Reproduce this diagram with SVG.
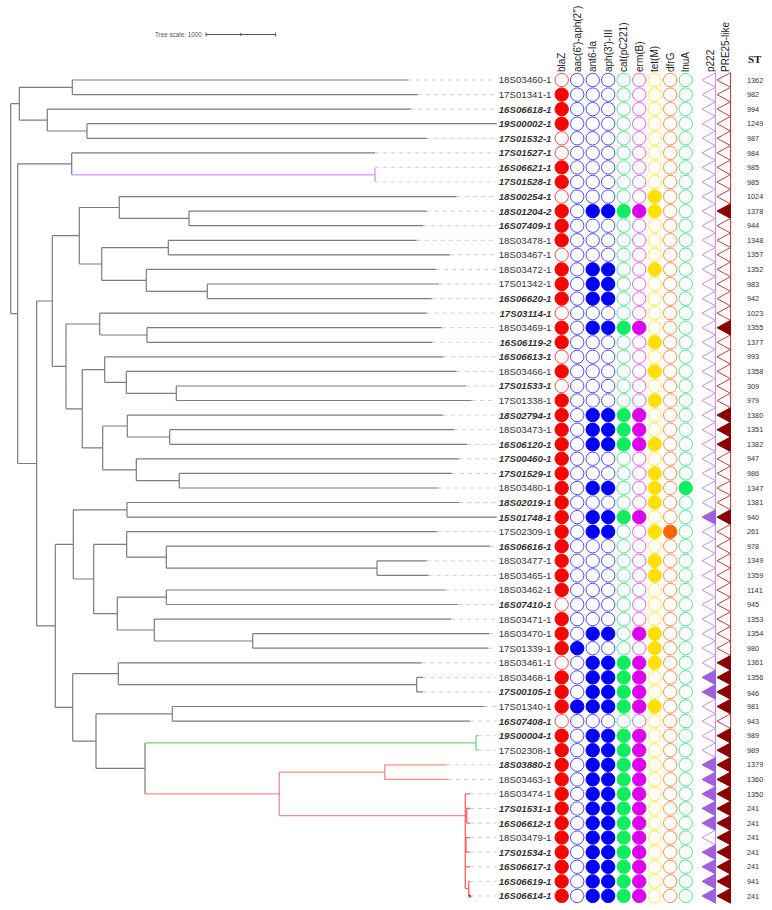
<svg xmlns="http://www.w3.org/2000/svg" width="772" height="910" viewBox="0 0 772 910">
<style>
text{font-family:"Liberation Sans",Arial,sans-serif;fill:#333}
.l{font-size:9.7px;text-anchor:end}
.b{font-weight:bold;font-style:italic}
.s{font-size:7.3px}
.h{font-size:10px;fill:#222}
.r{fill:#fff;stroke:#ff4d4d}.R{fill:#f00;stroke:#f00}
.u{fill:#fff;stroke:#4d4dff}.U{fill:#00f;stroke:#00f}
.g{fill:#fff;stroke:#4de88a}.G{fill:#10ee60;stroke:#10ee60}
.m{fill:#fff;stroke:#e860f0}.M{fill:#dd00f0;stroke:#dd00f0}
.y{fill:#fff;stroke:#ffe840}.Y{fill:#ffe000;stroke:#ffe000}
.o{fill:#fff;stroke:#ff8c4d}.O{fill:#ff6400;stroke:#ff6400}
.p{fill:#fff;stroke:#c58ef0}.P{fill:#a060dd;stroke:#a060dd}
.q{fill:#fff;stroke:#cc3a3a}.Q{fill:#8b0000;stroke:#8b0000}
use{stroke-width:1}
.tree{fill:none;stroke:#7d7d7d;stroke-width:1.2}
.lead{fill:none;stroke:#cfcfcf;stroke-width:1;stroke-dasharray:4 4}
</style>
<defs>
<circle id="c0" cx="561.7" r="6.7"/><circle id="c1" cx="577.2" r="6.7"/><circle id="c2" cx="592.7" r="6.7"/>
<circle id="c3" cx="608.2" r="6.7"/><circle id="c4" cx="623.7" r="6.7"/><circle id="c5" cx="639.2" r="6.7"/>
<circle id="c6" cx="654.7" r="6.7"/><circle id="c7" cx="670.2" r="6.7"/><circle id="c8" cx="685.7" r="6.7"/>
<polygon id="t1" points="702,0 715.5,-7.3 715.5,7.3"/>
<polygon id="t2" points="717,0 730.5,-7.3 730.5,7.3"/>
</defs>
<rect width="772" height="910" fill="#fff"/>
<g id="scale">
<text x="155" y="37" style="font-size:6.3px;fill:#555">Tree scale: 1000</text>
<path d="M206 34.5H275.7M206 32.5V36.5M240.8 33V36M275.7 32.5V36.5" stroke="#555" fill="none"/>
</g>
<g id="header">
<text class="h" transform="translate(565.2,72) rotate(-90)">blaZ</text>
<text class="h" transform="translate(580.7,72) rotate(-90)">aac(6')-aph(2'')</text>
<text class="h" transform="translate(596.2,72) rotate(-90)">ant6-Ia</text>
<text class="h" transform="translate(611.7,72) rotate(-90)">aph(3')-III</text>
<text class="h" transform="translate(627.2,72) rotate(-90)">cat(pC221)</text>
<text class="h" transform="translate(642.7,72) rotate(-90)">erm(B)</text>
<text class="h" transform="translate(658.2,72) rotate(-90)">tet(M)</text>
<text class="h" transform="translate(673.7,72) rotate(-90)">dfrG</text>
<text class="h" transform="translate(689.2,72) rotate(-90)">lnuA</text>
<text class="h" transform="translate(713.5,72) rotate(-90)">p222</text>
<text class="h" transform="translate(729,72) rotate(-90)">PRE25-like</text>
<text x="748" y="62.5" style="font-family:'Liberation Serif','Times New Roman',serif;font-weight:bold;font-size:11px;fill:#222">ST</text>
</g>
<g id="connectors">
<path class="tree" d="M10.7 103.7V313.6M10.7 103.7H19.3M10.7 313.6H17.7M19.3 87.3V120.1M19.3 87.3H72.3M19.3 120.1H47.3M72.3 80V94.6M72.3 80H407.7M72.3 94.6H417.7M47.3 109.1V131M47.3 109.1H410.7M47.3 131H87M87 123.7V138.3M87 123.7H496.7M87 138.3H426.7M17.7 163.8V463.5M17.7 163.8H71.7M17.7 463.5H36.7M71.7 152.9V174.7M71.7 152.9H375M36.7 301V625.9M36.7 301H52.3M36.7 625.9H55.3M52.3 235.7V366.4M52.3 235.7H79.3M52.3 366.4H66M79.3 207.5V264M79.3 207.5H119.3M79.3 264H101.7M119.3 196.6V218.4M119.3 196.6H456.7M119.3 218.4H189M189 211.1V225.7M189 211.1H426.7M189 225.7H423.3M101.7 247.6V280.3M101.7 247.6H168.3M101.7 280.3H146.3M168.3 240.3V254.8M168.3 240.3H416.7M168.3 254.8H450M146.3 269.4V291.3M146.3 269.4H436M146.3 291.3H207.3M207.3 284V298.6M207.3 284H439M207.3 298.6H431.7M66 324V408.8M66 324H99.7M66 408.8H82.3M99.7 313.1V335M99.7 313.1H426.7M99.7 335H147M147 327.7V342.3M147 327.7H441.7M147 342.3H432.3M82.3 369.6V447.9M82.3 369.6H104.7M82.3 447.9H102.7M104.7 356.8V382.3M104.7 356.8H443.3M104.7 382.3H126.3M126.3 371.4V393.3M126.3 371.4H456.7M126.3 393.3H176.3M176.3 386V400.5M176.3 386H466M176.3 400.5H471.7M102.7 426V469.8M102.7 426H127.3M102.7 469.8H136.3M127.3 415.1V437M127.3 415.1H442.7M127.3 437H169.7M169.7 429.7V444.3M169.7 429.7H454.3M169.7 444.3H467.3M136.3 458.8V480.7M136.3 458.8H459.3M136.3 480.7H179.3M179.3 473.4V488M179.3 473.4H451.7M179.3 488H438.7M55.3 544.4V707.4M55.3 544.4H73.3M55.3 707.4H72.7M73.3 509.8V579M73.3 509.8H127M73.3 579H93.7M127 502.5V517.1M127 502.5H459.3M127 517.1H496.7M93.7 544.4V613.6M93.7 544.4H126.7M93.7 613.6H117.3M126.7 531.7V557.2M126.7 531.7H437.3M126.7 557.2H166.3M166.3 546.2V568.1M166.3 546.2H490M166.3 568.1H377M377 560.8V575.4M377 560.8H426.7M377 575.4H428.7M117.3 597.2V630M117.3 597.2H166.3M117.3 630H154.3M166.3 590V604.5M166.3 590H445M166.3 604.5H458.3M154.3 619.1V641M154.3 619.1H451M154.3 641H252.7M252.7 633.7V648.2M252.7 633.7H489.3M252.7 648.2H488.3M72.7 673.7V741.1M72.7 673.7H118.3M72.7 741.1H96M118.3 662.8V684.7M118.3 662.8H421.7M118.3 684.7H416.7M416.7 677.4V691.9M416.7 677.4H423M416.7 691.9H423M96 713.8V768.4M96 713.8H172.3M96 768.4H145M172.3 706.5V721.1M172.3 706.5H484M172.3 721.1H470M145 742.9V793.9"/>
<path d="M71.7 174.7H375M375 167.4V182" fill="none" stroke="#e0a0ff" stroke-width="1.5"/>
<path d="M145 742.9H476M476 735.7V750.2M476 735.7H478.5M476 750.2H478.5" fill="none" stroke="#7fd07f" stroke-width="1.3"/>
<path d="M145 793.9H279.3M279.3 772.1V815.7M279.3 772.1H384.7M279.3 815.7H465.3M384.7 764.8V779.4M384.7 764.8H446.7M384.7 779.4H448.3" fill="none" stroke="#ff8a8a" stroke-width="1.3"/>
<path d="M465.3 793.9V888.6M465.3 793.9H470M465.3 815.8H466.7M466.7 808.5V823.1M466.7 808.5H470M466.7 823.1H470M465.3 844.9H466M466 837.6V852.2M466 837.6H470M466 852.2H470M465.3 866.8H470M465.3 888.6H468.7M468.7 881.4V895.9M468.7 881.4H470M468.7 895.9H470" fill="none" stroke="#ff6060" stroke-width="1.3"/>
<circle cx="470" cy="896" r="1.5" fill="#f00"/>
<path class="lead" d="M407.7 80H496M417.7 94.6H496M410.7 109.1H496M426.7 138.3H496M375 152.9H496M375 167.4H496M375 182H496M456.7 196.6H496M426.7 211.1H496M423.3 225.7H496M416.7 240.3H496M450 254.8H496M436 269.4H496M439 284H496M431.7 298.6H496M426.7 313.1H496M441.7 327.7H496M432.3 342.3H496M443.3 356.8H496M456.7 371.4H496M466 386H496M471.7 400.5H496M442.7 415.1H496M454.3 429.7H496M467.3 444.3H496M459.3 458.8H496M451.7 473.4H496M438.7 488H496M459.3 502.5H496M437.3 531.7H496M490 546.2H496M426.7 560.8H496M428.7 575.4H496M445 590H496M458.3 604.5H496M451 619.1H496M489.3 633.7H496M488.3 648.2H496M421.7 662.8H496M423 677.4H496M423 691.9H496M484 706.5H496M470 721.1H496M478.5 735.7H496M478.5 750.2H496M446.7 764.8H496M448.3 779.4H496M470 793.9H496M470 808.5H496M470 823.1H496M470 837.6H496M470 852.2H496M470 866.8H496M470 881.4H496M470 895.9H496"/>
</g>
<g id="s1" transform="translate(0,80)"><text class="l" x="551.5" y="3.4">18S03460-1</text><use href="#c0" class="r"/><use href="#c1" class="u"/><use href="#c2" class="u"/><use href="#c3" class="u"/><use href="#c4" class="g"/><use href="#c5" class="m"/><use href="#c6" class="y"/><use href="#c7" class="o"/><use href="#c8" class="g"/><use href="#t1" class="p"/><use href="#t2" class="q"/><text class="s" x="747" y="2.6">1362</text></g>
<g id="s2" transform="translate(0,94.6)"><text class="l" x="551.5" y="3.4">17S01341-1</text><use href="#c0" class="R"/><use href="#c1" class="u"/><use href="#c2" class="u"/><use href="#c3" class="u"/><use href="#c4" class="g"/><use href="#c5" class="m"/><use href="#c6" class="y"/><use href="#c7" class="o"/><use href="#c8" class="g"/><use href="#t1" class="p"/><use href="#t2" class="q"/><text class="s" x="747" y="2.6">982</text></g>
<g id="s3" transform="translate(0,109.1)"><text class="l b" x="551.5" y="3.4">16S06618-1</text><use href="#c0" class="R"/><use href="#c1" class="u"/><use href="#c2" class="u"/><use href="#c3" class="u"/><use href="#c4" class="g"/><use href="#c5" class="m"/><use href="#c6" class="y"/><use href="#c7" class="o"/><use href="#c8" class="g"/><use href="#t1" class="p"/><use href="#t2" class="q"/><text class="s" x="747" y="2.6">994</text></g>
<g id="s4" transform="translate(0,123.7)"><text class="l b" x="551.5" y="3.4">19S00002-1</text><use href="#c0" class="R"/><use href="#c1" class="u"/><use href="#c2" class="u"/><use href="#c3" class="u"/><use href="#c4" class="g"/><use href="#c5" class="m"/><use href="#c6" class="y"/><use href="#c7" class="o"/><use href="#c8" class="g"/><use href="#t1" class="p"/><use href="#t2" class="q"/><text class="s" x="747" y="2.6">1249</text></g>
<g id="s5" transform="translate(0,138.3)"><text class="l b" x="551.5" y="3.4">17S01532-1</text><use href="#c0" class="r"/><use href="#c1" class="u"/><use href="#c2" class="u"/><use href="#c3" class="u"/><use href="#c4" class="g"/><use href="#c5" class="m"/><use href="#c6" class="y"/><use href="#c7" class="o"/><use href="#c8" class="g"/><use href="#t1" class="p"/><use href="#t2" class="q"/><text class="s" x="747" y="2.6">987</text></g>
<g id="s6" transform="translate(0,152.9)"><text class="l b" x="551.5" y="3.4">17S01527-1</text><use href="#c0" class="r"/><use href="#c1" class="u"/><use href="#c2" class="u"/><use href="#c3" class="u"/><use href="#c4" class="g"/><use href="#c5" class="m"/><use href="#c6" class="y"/><use href="#c7" class="o"/><use href="#c8" class="g"/><use href="#t1" class="p"/><use href="#t2" class="q"/><text class="s" x="747" y="2.6">984</text></g>
<g id="s7" transform="translate(0,167.4)"><text class="l b" x="551.5" y="3.4">16S06621-1</text><use href="#c0" class="R"/><use href="#c1" class="u"/><use href="#c2" class="u"/><use href="#c3" class="u"/><use href="#c4" class="g"/><use href="#c5" class="m"/><use href="#c6" class="y"/><use href="#c7" class="o"/><use href="#c8" class="g"/><use href="#t1" class="p"/><use href="#t2" class="q"/><text class="s" x="747" y="2.6">985</text></g>
<g id="s8" transform="translate(0,182)"><text class="l b" x="551.5" y="3.4">17S01528-1</text><use href="#c0" class="R"/><use href="#c1" class="u"/><use href="#c2" class="u"/><use href="#c3" class="u"/><use href="#c4" class="g"/><use href="#c5" class="m"/><use href="#c6" class="y"/><use href="#c7" class="o"/><use href="#c8" class="g"/><use href="#t1" class="p"/><use href="#t2" class="q"/><text class="s" x="747" y="2.6">985</text></g>
<g id="s9" transform="translate(0,196.6)"><text class="l b" x="551.5" y="3.4">18S00254-1</text><use href="#c0" class="r"/><use href="#c1" class="u"/><use href="#c2" class="u"/><use href="#c3" class="u"/><use href="#c4" class="g"/><use href="#c5" class="m"/><use href="#c6" class="Y"/><use href="#c7" class="o"/><use href="#c8" class="g"/><use href="#t1" class="p"/><use href="#t2" class="q"/><text class="s" x="747" y="2.6">1024</text></g>
<g id="s10" transform="translate(0,211.1)"><text class="l b" x="551.5" y="3.4">18S01204-2</text><use href="#c0" class="R"/><use href="#c1" class="u"/><use href="#c2" class="U"/><use href="#c3" class="U"/><use href="#c4" class="G"/><use href="#c5" class="M"/><use href="#c6" class="Y"/><use href="#c7" class="o"/><use href="#c8" class="g"/><use href="#t1" class="p"/><use href="#t2" class="Q"/><text class="s" x="747" y="2.6">1378</text></g>
<g id="s11" transform="translate(0,225.7)"><text class="l b" x="551.5" y="3.4">16S07409-1</text><use href="#c0" class="R"/><use href="#c1" class="u"/><use href="#c2" class="u"/><use href="#c3" class="u"/><use href="#c4" class="g"/><use href="#c5" class="m"/><use href="#c6" class="y"/><use href="#c7" class="o"/><use href="#c8" class="g"/><use href="#t1" class="p"/><use href="#t2" class="q"/><text class="s" x="747" y="2.6">944</text></g>
<g id="s12" transform="translate(0,240.3)"><text class="l" x="551.5" y="3.4">18S03478-1</text><use href="#c0" class="R"/><use href="#c1" class="u"/><use href="#c2" class="u"/><use href="#c3" class="u"/><use href="#c4" class="g"/><use href="#c5" class="m"/><use href="#c6" class="y"/><use href="#c7" class="o"/><use href="#c8" class="g"/><use href="#t1" class="p"/><use href="#t2" class="q"/><text class="s" x="747" y="2.6">1348</text></g>
<g id="s13" transform="translate(0,254.8)"><text class="l" x="551.5" y="3.4">18S03467-1</text><use href="#c0" class="r"/><use href="#c1" class="u"/><use href="#c2" class="u"/><use href="#c3" class="u"/><use href="#c4" class="g"/><use href="#c5" class="m"/><use href="#c6" class="y"/><use href="#c7" class="o"/><use href="#c8" class="g"/><use href="#t1" class="p"/><use href="#t2" class="q"/><text class="s" x="747" y="2.6">1357</text></g>
<g id="s14" transform="translate(0,269.4)"><text class="l" x="551.5" y="3.4">18S03472-1</text><use href="#c0" class="R"/><use href="#c1" class="u"/><use href="#c2" class="U"/><use href="#c3" class="U"/><use href="#c4" class="g"/><use href="#c5" class="m"/><use href="#c6" class="Y"/><use href="#c7" class="o"/><use href="#c8" class="g"/><use href="#t1" class="p"/><use href="#t2" class="q"/><text class="s" x="747" y="2.6">1352</text></g>
<g id="s15" transform="translate(0,284)"><text class="l" x="551.5" y="3.4">17S01342-1</text><use href="#c0" class="R"/><use href="#c1" class="u"/><use href="#c2" class="U"/><use href="#c3" class="U"/><use href="#c4" class="g"/><use href="#c5" class="m"/><use href="#c6" class="y"/><use href="#c7" class="o"/><use href="#c8" class="g"/><use href="#t1" class="p"/><use href="#t2" class="q"/><text class="s" x="747" y="2.6">983</text></g>
<g id="s16" transform="translate(0,298.6)"><text class="l b" x="551.5" y="3.4">16S06620-1</text><use href="#c0" class="R"/><use href="#c1" class="u"/><use href="#c2" class="U"/><use href="#c3" class="U"/><use href="#c4" class="g"/><use href="#c5" class="m"/><use href="#c6" class="y"/><use href="#c7" class="o"/><use href="#c8" class="g"/><use href="#t1" class="p"/><use href="#t2" class="q"/><text class="s" x="747" y="2.6">942</text></g>
<g id="s17" transform="translate(0,313.1)"><text class="l b" x="551.5" y="3.4">17S03114-1</text><use href="#c0" class="r"/><use href="#c1" class="u"/><use href="#c2" class="u"/><use href="#c3" class="u"/><use href="#c4" class="g"/><use href="#c5" class="m"/><use href="#c6" class="y"/><use href="#c7" class="o"/><use href="#c8" class="g"/><use href="#t1" class="p"/><use href="#t2" class="q"/><text class="s" x="747" y="2.6">1023</text></g>
<g id="s18" transform="translate(0,327.7)"><text class="l" x="551.5" y="3.4">18S03469-1</text><use href="#c0" class="R"/><use href="#c1" class="u"/><use href="#c2" class="U"/><use href="#c3" class="U"/><use href="#c4" class="G"/><use href="#c5" class="M"/><use href="#c6" class="y"/><use href="#c7" class="o"/><use href="#c8" class="g"/><use href="#t1" class="p"/><use href="#t2" class="Q"/><text class="s" x="747" y="2.6">1355</text></g>
<g id="s19" transform="translate(0,342.3)"><text class="l b" x="551.5" y="3.4">16S06119-2</text><use href="#c0" class="R"/><use href="#c1" class="u"/><use href="#c2" class="u"/><use href="#c3" class="u"/><use href="#c4" class="g"/><use href="#c5" class="m"/><use href="#c6" class="Y"/><use href="#c7" class="o"/><use href="#c8" class="g"/><use href="#t1" class="p"/><use href="#t2" class="q"/><text class="s" x="747" y="2.6">1377</text></g>
<g id="s20" transform="translate(0,356.8)"><text class="l b" x="551.5" y="3.4">16S06613-1</text><use href="#c0" class="r"/><use href="#c1" class="u"/><use href="#c2" class="u"/><use href="#c3" class="u"/><use href="#c4" class="g"/><use href="#c5" class="m"/><use href="#c6" class="y"/><use href="#c7" class="o"/><use href="#c8" class="g"/><use href="#t1" class="p"/><use href="#t2" class="q"/><text class="s" x="747" y="2.6">993</text></g>
<g id="s21" transform="translate(0,371.4)"><text class="l" x="551.5" y="3.4">18S03466-1</text><use href="#c0" class="R"/><use href="#c1" class="u"/><use href="#c2" class="u"/><use href="#c3" class="u"/><use href="#c4" class="g"/><use href="#c5" class="m"/><use href="#c6" class="Y"/><use href="#c7" class="o"/><use href="#c8" class="g"/><use href="#t1" class="p"/><use href="#t2" class="q"/><text class="s" x="747" y="2.6">1358</text></g>
<g id="s22" transform="translate(0,386)"><text class="l b" x="551.5" y="3.4">17S01533-1</text><use href="#c0" class="r"/><use href="#c1" class="u"/><use href="#c2" class="u"/><use href="#c3" class="u"/><use href="#c4" class="g"/><use href="#c5" class="m"/><use href="#c6" class="y"/><use href="#c7" class="o"/><use href="#c8" class="g"/><use href="#t1" class="p"/><use href="#t2" class="q"/><text class="s" x="747" y="2.6">309</text></g>
<g id="s23" transform="translate(0,400.5)"><text class="l" x="551.5" y="3.4">17S01338-1</text><use href="#c0" class="R"/><use href="#c1" class="u"/><use href="#c2" class="u"/><use href="#c3" class="u"/><use href="#c4" class="g"/><use href="#c5" class="m"/><use href="#c6" class="Y"/><use href="#c7" class="o"/><use href="#c8" class="g"/><use href="#t1" class="p"/><use href="#t2" class="q"/><text class="s" x="747" y="2.6">979</text></g>
<g id="s24" transform="translate(0,415.1)"><text class="l b" x="551.5" y="3.4">18S02794-1</text><use href="#c0" class="R"/><use href="#c1" class="u"/><use href="#c2" class="U"/><use href="#c3" class="U"/><use href="#c4" class="G"/><use href="#c5" class="M"/><use href="#c6" class="y"/><use href="#c7" class="o"/><use href="#c8" class="g"/><use href="#t1" class="p"/><use href="#t2" class="Q"/><text class="s" x="747" y="2.6">1380</text></g>
<g id="s25" transform="translate(0,429.7)"><text class="l" x="551.5" y="3.4">18S03473-1</text><use href="#c0" class="R"/><use href="#c1" class="u"/><use href="#c2" class="U"/><use href="#c3" class="U"/><use href="#c4" class="G"/><use href="#c5" class="M"/><use href="#c6" class="y"/><use href="#c7" class="o"/><use href="#c8" class="g"/><use href="#t1" class="p"/><use href="#t2" class="Q"/><text class="s" x="747" y="2.6">1351</text></g>
<g id="s26" transform="translate(0,444.3)"><text class="l b" x="551.5" y="3.4">16S06120-1</text><use href="#c0" class="R"/><use href="#c1" class="u"/><use href="#c2" class="U"/><use href="#c3" class="U"/><use href="#c4" class="G"/><use href="#c5" class="M"/><use href="#c6" class="Y"/><use href="#c7" class="o"/><use href="#c8" class="g"/><use href="#t1" class="p"/><use href="#t2" class="Q"/><text class="s" x="747" y="2.6">1382</text></g>
<g id="s27" transform="translate(0,458.8)"><text class="l b" x="551.5" y="3.4">17S00460-1</text><use href="#c0" class="R"/><use href="#c1" class="u"/><use href="#c2" class="u"/><use href="#c3" class="u"/><use href="#c4" class="g"/><use href="#c5" class="m"/><use href="#c6" class="y"/><use href="#c7" class="o"/><use href="#c8" class="g"/><use href="#t1" class="p"/><use href="#t2" class="q"/><text class="s" x="747" y="2.6">947</text></g>
<g id="s28" transform="translate(0,473.4)"><text class="l b" x="551.5" y="3.4">17S01529-1</text><use href="#c0" class="R"/><use href="#c1" class="u"/><use href="#c2" class="u"/><use href="#c3" class="u"/><use href="#c4" class="g"/><use href="#c5" class="m"/><use href="#c6" class="Y"/><use href="#c7" class="o"/><use href="#c8" class="g"/><use href="#t1" class="p"/><use href="#t2" class="q"/><text class="s" x="747" y="2.6">986</text></g>
<g id="s29" transform="translate(0,488)"><text class="l" x="551.5" y="3.4">18S03480-1</text><use href="#c0" class="R"/><use href="#c1" class="u"/><use href="#c2" class="U"/><use href="#c3" class="U"/><use href="#c4" class="g"/><use href="#c5" class="m"/><use href="#c6" class="Y"/><use href="#c7" class="o"/><use href="#c8" class="G"/><use href="#t1" class="p"/><use href="#t2" class="q"/><text class="s" x="747" y="2.6">1347</text></g>
<g id="s30" transform="translate(0,502.5)"><text class="l b" x="551.5" y="3.4">18S02019-1</text><use href="#c0" class="R"/><use href="#c1" class="u"/><use href="#c2" class="u"/><use href="#c3" class="u"/><use href="#c4" class="g"/><use href="#c5" class="m"/><use href="#c6" class="Y"/><use href="#c7" class="o"/><use href="#c8" class="g"/><use href="#t1" class="p"/><use href="#t2" class="q"/><text class="s" x="747" y="2.6">1381</text></g>
<g id="s31" transform="translate(0,517.1)"><text class="l b" x="551.5" y="3.4">15S01748-1</text><use href="#c0" class="R"/><use href="#c1" class="u"/><use href="#c2" class="U"/><use href="#c3" class="U"/><use href="#c4" class="G"/><use href="#c5" class="M"/><use href="#c6" class="y"/><use href="#c7" class="o"/><use href="#c8" class="g"/><use href="#t1" class="P"/><use href="#t2" class="Q"/><text class="s" x="747" y="2.6">940</text></g>
<g id="s32" transform="translate(0,531.7)"><text class="l" x="551.5" y="3.4">17S02309-1</text><use href="#c0" class="R"/><use href="#c1" class="u"/><use href="#c2" class="U"/><use href="#c3" class="U"/><use href="#c4" class="g"/><use href="#c5" class="m"/><use href="#c6" class="Y"/><use href="#c7" class="O"/><use href="#c8" class="g"/><use href="#t1" class="p"/><use href="#t2" class="q"/><text class="s" x="747" y="2.6">261</text></g>
<g id="s33" transform="translate(0,546.2)"><text class="l b" x="551.5" y="3.4">16S06616-1</text><use href="#c0" class="R"/><use href="#c1" class="u"/><use href="#c2" class="u"/><use href="#c3" class="u"/><use href="#c4" class="g"/><use href="#c5" class="m"/><use href="#c6" class="y"/><use href="#c7" class="o"/><use href="#c8" class="g"/><use href="#t1" class="p"/><use href="#t2" class="q"/><text class="s" x="747" y="2.6">978</text></g>
<g id="s34" transform="translate(0,560.8)"><text class="l" x="551.5" y="3.4">18S03477-1</text><use href="#c0" class="R"/><use href="#c1" class="u"/><use href="#c2" class="u"/><use href="#c3" class="u"/><use href="#c4" class="g"/><use href="#c5" class="m"/><use href="#c6" class="Y"/><use href="#c7" class="o"/><use href="#c8" class="g"/><use href="#t1" class="p"/><use href="#t2" class="q"/><text class="s" x="747" y="2.6">1349</text></g>
<g id="s35" transform="translate(0,575.4)"><text class="l" x="551.5" y="3.4">18S03465-1</text><use href="#c0" class="R"/><use href="#c1" class="u"/><use href="#c2" class="u"/><use href="#c3" class="u"/><use href="#c4" class="g"/><use href="#c5" class="m"/><use href="#c6" class="Y"/><use href="#c7" class="o"/><use href="#c8" class="g"/><use href="#t1" class="p"/><use href="#t2" class="q"/><text class="s" x="747" y="2.6">1359</text></g>
<g id="s36" transform="translate(0,590)"><text class="l" x="551.5" y="3.4">18S03462-1</text><use href="#c0" class="R"/><use href="#c1" class="u"/><use href="#c2" class="u"/><use href="#c3" class="u"/><use href="#c4" class="g"/><use href="#c5" class="m"/><use href="#c6" class="y"/><use href="#c7" class="o"/><use href="#c8" class="g"/><use href="#t1" class="p"/><use href="#t2" class="q"/><text class="s" x="747" y="2.6">1141</text></g>
<g id="s37" transform="translate(0,604.5)"><text class="l b" x="551.5" y="3.4">16S07410-1</text><use href="#c0" class="r"/><use href="#c1" class="u"/><use href="#c2" class="u"/><use href="#c3" class="u"/><use href="#c4" class="g"/><use href="#c5" class="m"/><use href="#c6" class="y"/><use href="#c7" class="o"/><use href="#c8" class="g"/><use href="#t1" class="p"/><use href="#t2" class="q"/><text class="s" x="747" y="2.6">945</text></g>
<g id="s38" transform="translate(0,619.1)"><text class="l" x="551.5" y="3.4">18S03471-1</text><use href="#c0" class="R"/><use href="#c1" class="u"/><use href="#c2" class="u"/><use href="#c3" class="u"/><use href="#c4" class="g"/><use href="#c5" class="m"/><use href="#c6" class="y"/><use href="#c7" class="o"/><use href="#c8" class="g"/><use href="#t1" class="p"/><use href="#t2" class="q"/><text class="s" x="747" y="2.6">1353</text></g>
<g id="s39" transform="translate(0,633.7)"><text class="l" x="551.5" y="3.4">18S03470-1</text><use href="#c0" class="R"/><use href="#c1" class="u"/><use href="#c2" class="U"/><use href="#c3" class="U"/><use href="#c4" class="g"/><use href="#c5" class="M"/><use href="#c6" class="Y"/><use href="#c7" class="o"/><use href="#c8" class="g"/><use href="#t1" class="p"/><use href="#t2" class="q"/><text class="s" x="747" y="2.6">1354</text></g>
<g id="s40" transform="translate(0,648.2)"><text class="l" x="551.5" y="3.4">17S01339-1</text><use href="#c0" class="R"/><use href="#c1" class="U"/><use href="#c2" class="u"/><use href="#c3" class="u"/><use href="#c4" class="g"/><use href="#c5" class="m"/><use href="#c6" class="Y"/><use href="#c7" class="o"/><use href="#c8" class="g"/><use href="#t1" class="p"/><use href="#t2" class="q"/><text class="s" x="747" y="2.6">980</text></g>
<g id="s41" transform="translate(0,662.8)"><text class="l" x="551.5" y="3.4">18S03461-1</text><use href="#c0" class="r"/><use href="#c1" class="u"/><use href="#c2" class="U"/><use href="#c3" class="U"/><use href="#c4" class="G"/><use href="#c5" class="M"/><use href="#c6" class="Y"/><use href="#c7" class="o"/><use href="#c8" class="g"/><use href="#t1" class="p"/><use href="#t2" class="Q"/><text class="s" x="747" y="2.6">1361</text></g>
<g id="s42" transform="translate(0,677.4)"><text class="l" x="551.5" y="3.4">18S03468-1</text><use href="#c0" class="R"/><use href="#c1" class="u"/><use href="#c2" class="U"/><use href="#c3" class="U"/><use href="#c4" class="G"/><use href="#c5" class="M"/><use href="#c6" class="y"/><use href="#c7" class="o"/><use href="#c8" class="g"/><use href="#t1" class="P"/><use href="#t2" class="Q"/><text class="s" x="747" y="2.6">1356</text></g>
<g id="s43" transform="translate(0,691.9)"><text class="l b" x="551.5" y="3.4">17S00105-1</text><use href="#c0" class="R"/><use href="#c1" class="u"/><use href="#c2" class="U"/><use href="#c3" class="U"/><use href="#c4" class="G"/><use href="#c5" class="M"/><use href="#c6" class="y"/><use href="#c7" class="o"/><use href="#c8" class="g"/><use href="#t1" class="P"/><use href="#t2" class="Q"/><text class="s" x="747" y="3.6">946</text></g>
<g id="s44" transform="translate(0,706.5)"><text class="l" x="551.5" y="3.4">17S01340-1</text><use href="#c0" class="R"/><use href="#c1" class="U"/><use href="#c2" class="U"/><use href="#c3" class="U"/><use href="#c4" class="G"/><use href="#c5" class="M"/><use href="#c6" class="Y"/><use href="#c7" class="o"/><use href="#c8" class="g"/><use href="#t1" class="p"/><use href="#t2" class="Q"/><text class="s" x="747" y="2.6">981</text></g>
<g id="s45" transform="translate(0,721.1)"><text class="l b" x="551.5" y="3.4">16S07408-1</text><use href="#c0" class="r"/><use href="#c1" class="u"/><use href="#c2" class="u"/><use href="#c3" class="u"/><use href="#c4" class="g"/><use href="#c5" class="m"/><use href="#c6" class="y"/><use href="#c7" class="o"/><use href="#c8" class="g"/><use href="#t1" class="p"/><use href="#t2" class="q"/><text class="s" x="747" y="2.6">943</text></g>
<g id="s46" transform="translate(0,735.7)"><text class="l b" x="551.5" y="3.4">19S00004-1</text><use href="#c0" class="R"/><use href="#c1" class="u"/><use href="#c2" class="U"/><use href="#c3" class="U"/><use href="#c4" class="G"/><use href="#c5" class="M"/><use href="#c6" class="y"/><use href="#c7" class="o"/><use href="#c8" class="g"/><use href="#t1" class="p"/><use href="#t2" class="Q"/><text class="s" x="747" y="2.6">989</text></g>
<g id="s47" transform="translate(0,750.2)"><text class="l" x="551.5" y="3.4">17S02308-1</text><use href="#c0" class="R"/><use href="#c1" class="u"/><use href="#c2" class="U"/><use href="#c3" class="U"/><use href="#c4" class="G"/><use href="#c5" class="M"/><use href="#c6" class="y"/><use href="#c7" class="o"/><use href="#c8" class="g"/><use href="#t1" class="p"/><use href="#t2" class="Q"/><text class="s" x="747" y="2.6">989</text></g>
<g id="s48" transform="translate(0,764.8)"><text class="l b" x="551.5" y="3.4">18S03880-1</text><use href="#c0" class="R"/><use href="#c1" class="u"/><use href="#c2" class="U"/><use href="#c3" class="U"/><use href="#c4" class="G"/><use href="#c5" class="M"/><use href="#c6" class="y"/><use href="#c7" class="o"/><use href="#c8" class="g"/><use href="#t1" class="P"/><use href="#t2" class="Q"/><text class="s" x="747" y="2.6">1379</text></g>
<g id="s49" transform="translate(0,779.4)"><text class="l" x="551.5" y="3.4">18S03463-1</text><use href="#c0" class="R"/><use href="#c1" class="u"/><use href="#c2" class="U"/><use href="#c3" class="U"/><use href="#c4" class="G"/><use href="#c5" class="M"/><use href="#c6" class="y"/><use href="#c7" class="o"/><use href="#c8" class="g"/><use href="#t1" class="P"/><use href="#t2" class="Q"/><text class="s" x="747" y="2.6">1360</text></g>
<g id="s50" transform="translate(0,793.9)"><text class="l" x="551.5" y="3.4">18S03474-1</text><use href="#c0" class="R"/><use href="#c1" class="u"/><use href="#c2" class="U"/><use href="#c3" class="U"/><use href="#c4" class="G"/><use href="#c5" class="M"/><use href="#c6" class="y"/><use href="#c7" class="o"/><use href="#c8" class="g"/><use href="#t1" class="P"/><use href="#t2" class="Q"/><text class="s" x="747" y="2.6">1350</text></g>
<g id="s51" transform="translate(0,808.5)"><text class="l b" x="551.5" y="3.4">17S01531-1</text><use href="#c0" class="R"/><use href="#c1" class="u"/><use href="#c2" class="U"/><use href="#c3" class="U"/><use href="#c4" class="G"/><use href="#c5" class="M"/><use href="#c6" class="y"/><use href="#c7" class="o"/><use href="#c8" class="g"/><use href="#t1" class="P"/><use href="#t2" class="Q"/><text class="s" x="747" y="2.6">241</text></g>
<g id="s52" transform="translate(0,823.1)"><text class="l b" x="551.5" y="3.4">16S06612-1</text><use href="#c0" class="R"/><use href="#c1" class="u"/><use href="#c2" class="U"/><use href="#c3" class="U"/><use href="#c4" class="G"/><use href="#c5" class="M"/><use href="#c6" class="y"/><use href="#c7" class="o"/><use href="#c8" class="g"/><use href="#t1" class="P"/><use href="#t2" class="Q"/><text class="s" x="747" y="2.6">241</text></g>
<g id="s53" transform="translate(0,837.6)"><text class="l" x="551.5" y="3.4">18S03479-1</text><use href="#c0" class="R"/><use href="#c1" class="u"/><use href="#c2" class="U"/><use href="#c3" class="U"/><use href="#c4" class="G"/><use href="#c5" class="M"/><use href="#c6" class="y"/><use href="#c7" class="o"/><use href="#c8" class="g"/><use href="#t1" class="p"/><use href="#t2" class="Q"/><text class="s" x="747" y="2.6">241</text></g>
<g id="s54" transform="translate(0,852.2)"><text class="l b" x="551.5" y="3.4">17S01534-1</text><use href="#c0" class="R"/><use href="#c1" class="u"/><use href="#c2" class="U"/><use href="#c3" class="U"/><use href="#c4" class="G"/><use href="#c5" class="M"/><use href="#c6" class="y"/><use href="#c7" class="o"/><use href="#c8" class="g"/><use href="#t1" class="P"/><use href="#t2" class="Q"/><text class="s" x="747" y="2.6">241</text></g>
<g id="s55" transform="translate(0,866.8)"><text class="l b" x="551.5" y="3.4">16S06617-1</text><use href="#c0" class="R"/><use href="#c1" class="u"/><use href="#c2" class="U"/><use href="#c3" class="U"/><use href="#c4" class="G"/><use href="#c5" class="M"/><use href="#c6" class="y"/><use href="#c7" class="o"/><use href="#c8" class="g"/><use href="#t1" class="P"/><use href="#t2" class="Q"/><text class="s" x="747" y="2.6">241</text></g>
<g id="s56" transform="translate(0,881.4)"><text class="l b" x="551.5" y="3.4">16S06619-1</text><use href="#c0" class="R"/><use href="#c1" class="u"/><use href="#c2" class="U"/><use href="#c3" class="U"/><use href="#c4" class="G"/><use href="#c5" class="M"/><use href="#c6" class="y"/><use href="#c7" class="o"/><use href="#c8" class="g"/><use href="#t1" class="P"/><use href="#t2" class="Q"/><text class="s" x="747" y="2.6">941</text></g>
<g id="s57" transform="translate(0,895.9)"><text class="l b" x="551.5" y="3.4">16S06614-1</text><use href="#c0" class="R"/><use href="#c1" class="u"/><use href="#c2" class="U"/><use href="#c3" class="U"/><use href="#c4" class="G"/><use href="#c5" class="M"/><use href="#c6" class="y"/><use href="#c7" class="o"/><use href="#c8" class="g"/><use href="#t1" class="P"/><use href="#t2" class="Q"/><text class="s" x="747" y="2.6">241</text></g>
</svg>
